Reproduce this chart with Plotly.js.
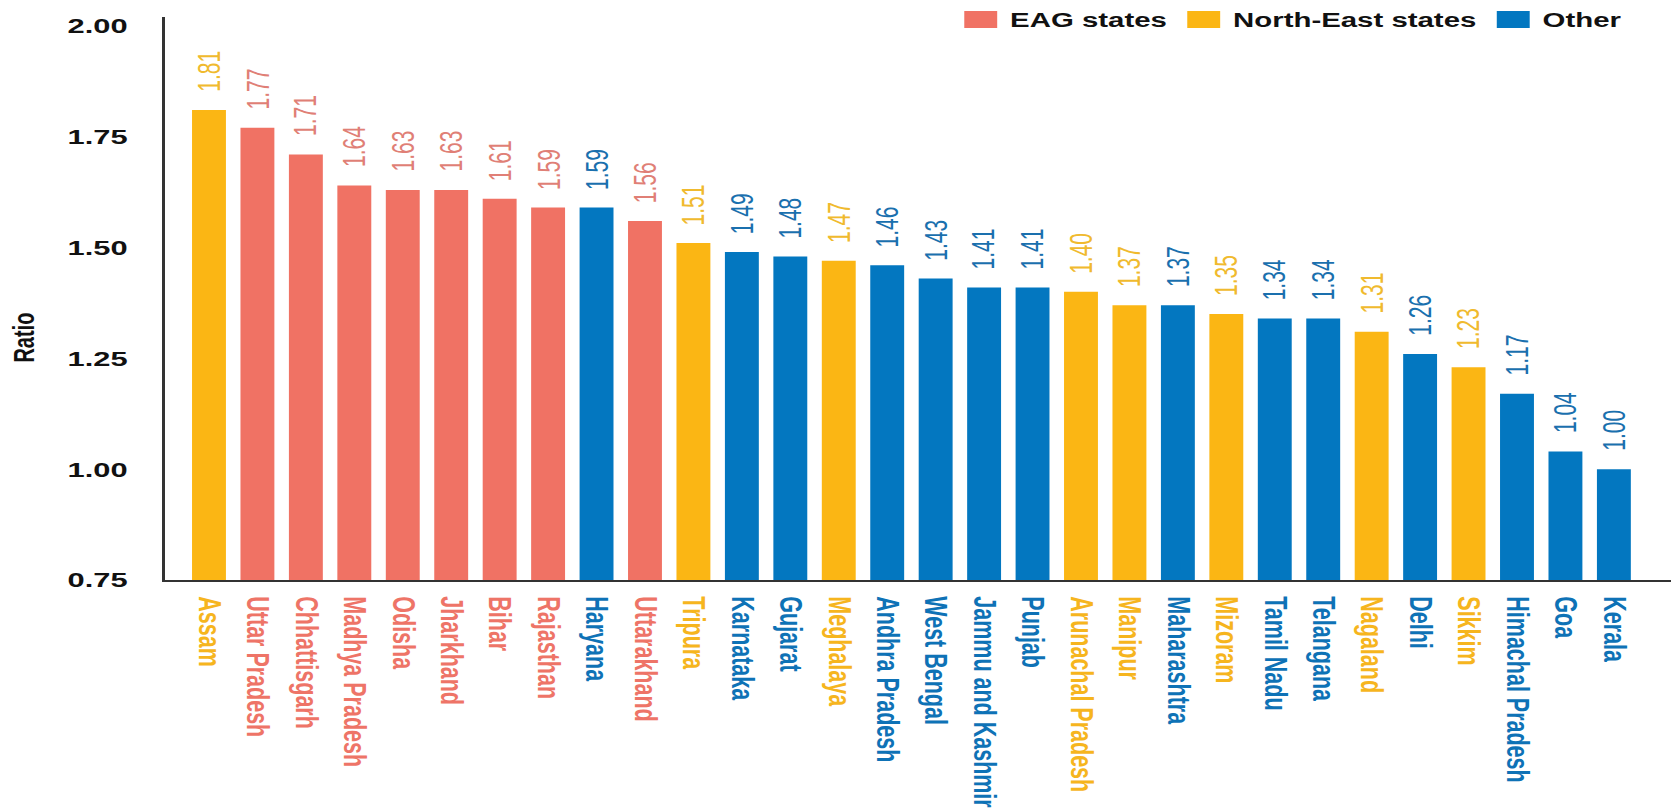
<!DOCTYPE html>
<html>
<head>
<meta charset="utf-8">
<script src="https://cdn.plot.ly/plotly-3.0.1.min.js"></script>
<style>
html,body{margin:0;padding:0;background:#fff;overflow:hidden;}
/* the reference picture is stretched horizontally; reproduce that stretch */
#chart{width:1137px;height:811px;transform:scaleX(1.4697);transform-origin:0 0;}
</style>
</head>
<body>
<div id="chart"></div>
<script>
// ---- data ----
const states = ["Assam","Uttar Pradesh","Chhattisgarh","Madhya Pradesh","Odisha","Jharkhand","Bihar","Rajasthan","Haryana","Uttarakhand","Tripura","Karnataka","Gujarat","Meghalaya","Andhra Pradesh","West Bengal","Jammu and Kashmir","Punjab","Arunachal Pradesh","Manipur","Maharashtra","Mizoram","Tamil Nadu","Telangana","Nagaland","Delhi","Sikkim","Himachal Pradesh","Goa","Kerala"];
const ratios = [1.81,1.77,1.71,1.64,1.63,1.63,1.61,1.59,1.59,1.56,1.51,1.49,1.48,1.47,1.46,1.43,1.41,1.41,1.40,1.37,1.37,1.35,1.34,1.34,1.31,1.26,1.23,1.17,1.04,1.00];
const groups = ["North-East states","EAG states","EAG states","EAG states","EAG states","EAG states","EAG states","EAG states","Other","EAG states","North-East states","Other","Other","North-East states","Other","Other","Other","Other","North-East states","North-East states","Other","North-East states","Other","Other","North-East states","Other","North-East states","Other","Other","Other"];
const groupNames = ["EAG states","North-East states","Other"];
const yTicks = [0.75,1.00,1.25,1.50,1.75,2.00];

// ---- styles ----
const barColors = {"EAG states":"#F07264","North-East states":"#FBB614","Other":"#0377C0"};
const labelColors = {"EAG states":"#E07F76","North-East states":"#F0BA2E","Other":"#1A70AE"};
const tickColors = {"EAG states":"#EE7467","North-East states":"#F6B51E","Other":"#0E72B6"};
const sans = "Liberation Sans, Arial, sans-serif";

const traces = groupNames.map(g => {
  const xs = [], ys = [];
  states.forEach((s,i) => { if (groups[i] === g) { xs.push(s); ys.push(ratios[i]); } });
  return {type:"bar", name:g, x:xs, y:ys, marker:{color:barColors[g], line:{width:0}}, hoverinfo:"x+y"};
});

const valueAnn = states.map((s,i) => ({
  x:s, y:ratios[i], xref:"x", yref:"y", text:ratios[i].toFixed(2), showarrow:false,
  textangle:-90, yanchor:"bottom", xanchor:"center", yshift:16,
  font:{family:sans, size:21, color:labelColors[groups[i]]}
}));

const layout = {
  width:1137, height:811,
  margin:{l:112, r:0, t:16, b:231},
  paper_bgcolor:"#fff", plot_bgcolor:"#fff",
  barmode:"overlay", bargap:0.30,
  showlegend:true,
  legend:{orientation:"h", xanchor:"right", x:0.972, yanchor:"top", y:1.03,
          font:{family:sans, size:20, color:"#111", weight:"bold"},
          traceorder:"normal", bgcolor:"rgba(0,0,0,0)"},
  xaxis:{type:"category", categoryorder:"array", categoryarray:states,
         range:[-0.916, 30.18], tickmode:"array", tickvals:states,
         ticktext:states.map((s,i)=>'<span style="color:'+tickColors[groups[i]]+'">'+s+'</span>'),
         tickangle:90, ticks:"", ticklabelstandoff:10,
         tickfont:{family:sans, size:21.5, weight:"bold"},
         showline:true, linecolor:"#333", linewidth:2, showgrid:false, zeroline:false, fixedrange:true},
  yaxis:{range:[0.75,2.02], tickmode:"array", tickvals:yTicks, ticktext:yTicks.map(v=>v.toFixed(2)),
         ticks:"", ticklabelstandoff:19,
         tickfont:{family:sans, size:21, color:"#111", weight:"bold"},
         showline:true, linecolor:"#333", linewidth:2, showgrid:false, zeroline:false, fixedrange:true,
         title:{text:""}},
  annotations:[...valueAnn,
    {xref:"paper", yref:"paper", x:-0.0934, y:0.431, text:"Ratio", showarrow:false, textangle:-90,
     xanchor:"center", yanchor:"middle", font:{family:sans, size:20, color:"#111", weight:"bold"}}]
};

Plotly.newPlot("chart", traces, layout, {displayModeBar:false, staticPlot:true}).then(() => {
  document.querySelectorAll(".legendpoints path").forEach(p => p.setAttribute("d","M11.2,8.5H-11.2V-8.5H11.2Z"));
});
</script>
</body>
</html>
